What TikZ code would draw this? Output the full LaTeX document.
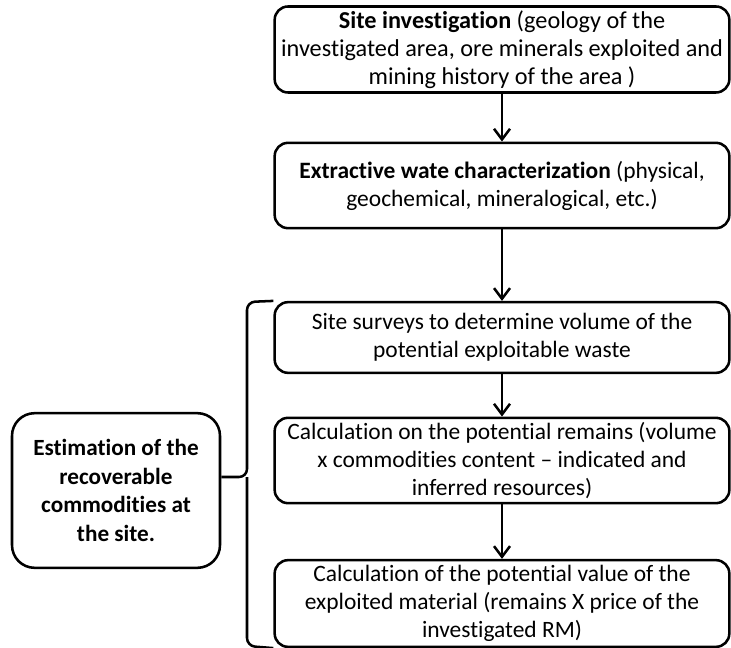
\documentclass[tikz,border=0pt]{standalone}
\usepackage{fontspec}
\setmainfont{Carlito}[Ligatures=NoCommon]
\usetikzlibrary{arrows.meta}

\tikzset{
  stagebox/.style={draw, line width=1.9pt, rounded corners=10pt, align=center,
    minimum width=341pt, inner sep=2pt, font=\fontsize{17.6}{21}\selectfont},
  estimbox/.style={draw, line width=1.9pt, rounded corners=17pt, align=center,
    minimum width=156pt, minimum height=116pt, font=\bfseries\fontsize{17.4}{21.5}\selectfont},
  flowarrow/.style={-{Straight Barb[length=8pt,width=12pt]}, line width=1.9pt},
  bracket/.style={line width=1.9pt, rounded corners=6pt}
}

\begin{document}
\begin{tikzpicture}[x=0.75pt,y=0.75pt,yscale=-1,xscale=1]
    \useasboundingbox (0,0) rectangle (731,648);

    % Text Node
    \node[stagebox, minimum height=64.5pt, font=\fontsize{18.2}{21}\selectfont] (siteinv) at (502,49.5)
      {\textbf{Site investigation} (geology of the\\investigated area, ore minerals exploited and\\mining history of the area )};
    % Text Node
    \node[stagebox, minimum height=64pt] (wastechar) at (502,185.5)
      {\textbf{Extractive wate characterization} (physical,\\geochemical, mineralogical, etc.)};
    % Text Node
    \node[stagebox, minimum height=53pt] (surveys) at (502,337.5)
      {Site surveys to determine volume of the\\potential exploitable waste};
    % Text Node
    \node[stagebox, minimum height=64pt] (remains) at (502,460.5)
      {Calculation on the potential remains (volume\\x commodities content -- indicated and\\inferred resources)};
    % Text Node
    \node[stagebox, minimum height=65pt] (value) at (502,603.5)
      {Calculation of the potential value of the\\exploited material (remains X price of the\\investigated RM)};
    % Text Node
    \node[estimbox] (estim) at (116,490.5)
      {Estimation of the\\recoverable\\commodities at\\the site.};

    % Connection
    \draw[flowarrow] (siteinv) -- (wastechar);
    \draw[flowarrow] (wastechar) -- (surveys);
    \draw[flowarrow] (surveys) -- (remains);
    \draw[flowarrow] (remains) -- (value);

    % Bracket
    \coordinate (bracetip) at (estim.east |- 0,477);
    \draw[bracket] (surveys.north west) -- (247,302) -- (247,477) -- (bracetip);
    \draw[bracket] (value.south west) -- (247,646) -- (247,477);

\end{tikzpicture}
\end{document}
